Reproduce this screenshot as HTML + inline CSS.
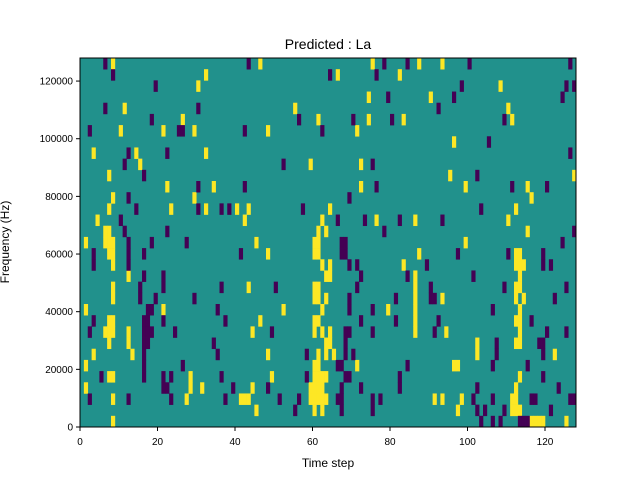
<!DOCTYPE html>
<html><head><meta charset="utf-8"><style>
body{margin:0;background:#fff;}
svg text{font-family:"Liberation Sans",sans-serif;fill:#000;}
</style></head><body>
<svg id="chart" width="640" height="480" xmlns="http://www.w3.org/2000/svg">
<rect width="640" height="480" fill="#fff"/>
<text x="328" y="49" font-size="14" text-anchor="middle">Predicted : La</text>
<text x="328" y="467" font-size="12" text-anchor="middle">Time step</text>
<text transform="translate(9,242) rotate(-90)" font-size="12" text-anchor="middle">Frequency (Hz)</text>
<g id="cells"></g>
<rect x="80" y="58" width="496" height="369" fill="none" stroke="#000" stroke-width="1"/>
<g id="ticks"></g>
</svg>
<script>
const nTime = 128;
const nBins = 33;
const freqMax = 128000;
const xTicks = [0,20,40,60,80,100,120];
const yTicks = [0,20000,40000,60000,80000,100000,120000];
// time indices of high (yellow) cells, per frequency row listed top row first
const highByRow = [
[8,46,75,87,93],[32,66,82],[30,108],[74,90],[11,55,110],[26,61,74,83,111],[10,21,29,48,71],[96],
[3,14,32],[15,59,72],[7,95,127],[22,34,72,99,115],[8,29,116],[7,23,32,40,43,64,112],[4,42,62,76,86,110],
[6,7,61,63,115],[1,6,7,8,45,60,61,99],[7,8,48,60,61,87,112,113],[8,62,64,83,112,113,114],[12,63,64,86,113],
[8,43,60,61,86,112,113],[8,60,61,63,86,93,112,114],[1,21,52,62,79,86,113],[7,8,46,60,61,86,112,113],
[6,7,8,12,44,60,62,64,86,94,113],[7,12,63,64,102,112,113],[3,13,48,61,63,65,102,122],[1,60,61,71,96,97],
[7,8,28,49,60,61,62,63,113],[1,28,31,44,59,60,61,62,112],[8,27,41,42,43,59,60,61,62,63,91,93,98,111,112],
[45,60,62,97,111,112,113],[8,116,117,118,119,125]
];
// time indices of low (purple) cells, per frequency row listed top row first
const lowByRow = [
[6,43,78,84,100,126],[8,64,76],[19,98,125,127],[79,96,124],[6,30,92],[18,56,70,80,109],[2,25,26,42,62],[105],
[12,22,126],[11,52,75],[16,102],[30,42,76,111,120],[12,69],[14,30,36,38,57,103],[10,66,73,82,93],
[11,22,78,127],[12,18,27,67,68,124],[3,12,16,41,67,68,97,110,119],[3,12,69,71,89,119,121],[16,21,72,84,101],
[15,21,36,50,71,90,109,125],[15,19,29,69,81,90,91,122],[17,18,35,69,75,106],[3,16,17,21,37,72,81,92,116],
[2,16,17,18,24,49,68,69,75,91,120,125],[16,17,34,68,107,118,119],[16,35,58,68,70,107,119],[16,26,66,67,84,106,115],
[5,16,21,23,36,58,68,69,82,119],[21,22,39,48,67,72,82,102,123],[2,12,23,37,51,56,66,67,75,77,101,106,116,117,126,127],
[55,67,75,102,104,109,121],[103,106,108,113,114,115]
];
const X0=80,X1=576,Y0=58,Y1=427;
const NS="http://www.w3.org/2000/svg";
const xs=t=>X0+t*(X1-X0)/nTime;
const ybin=b=>Y1-b*(Y1-Y0)/nBins; // bottom edge of bin b (b=0 lowest)
const yv=v=>Y1-v*(Y1-Y0)/freqMax;
const cw=(X1-X0)/nTime, ch=(Y1-Y0)/nBins;
const cells=document.getElementById('cells');
const bg=document.createElementNS(NS,'rect');


bg.setAttribute('x',X0);bg.setAttribute('y',Y0);bg.setAttribute('width',X1-X0);bg.setAttribute('height',Y1-Y0);bg.setAttribute('fill','#21918c');
cells.appendChild(bg);
function draw(list,color,name){
  list.forEach((row,ri)=>{
    const bin=nBins-1-ri;
    row.forEach(t=>{
      const r=document.createElementNS(NS,'rect');
      
      
      r.setAttribute('x',xs(t));r.setAttribute('y',ybin(bin+1));
      r.setAttribute('width',cw+0.3);r.setAttribute('height',ch+0.3);
      r.setAttribute('fill',color);
      cells.appendChild(r);
    });
  });
}
draw(highByRow,'#fde725','high-cell');
draw(lowByRow,'#440154','low-cell');
const tg=document.getElementById('ticks');
xTicks.forEach(v=>{
  const x=xs(v);
  const l=document.createElementNS(NS,'line');
  
  
  l.setAttribute('x1',x);l.setAttribute('x2',x);l.setAttribute('y1',Y1);l.setAttribute('y2',Y1+4);l.setAttribute('stroke','#000');
  tg.appendChild(l);
  const t=document.createElementNS(NS,'text');
  
  
  t.setAttribute('x',x);t.setAttribute('y',Y1+18);t.setAttribute('font-size','10');t.setAttribute('text-anchor','middle');
  t.textContent=v;tg.appendChild(t);
});
yTicks.forEach(v=>{
  const y=yv(v);
  const l=document.createElementNS(NS,'line');
  
  
  l.setAttribute('x1',X0-4);l.setAttribute('x2',X0);l.setAttribute('y1',y);l.setAttribute('y2',y);l.setAttribute('stroke','#000');
  tg.appendChild(l);
  const t=document.createElementNS(NS,'text');
  
  
  t.setAttribute('x',X0-7);t.setAttribute('y',y+3.5);t.setAttribute('font-size','10');t.setAttribute('text-anchor','end');
  t.textContent=v;tg.appendChild(t);
});
</script>
</body></html>
